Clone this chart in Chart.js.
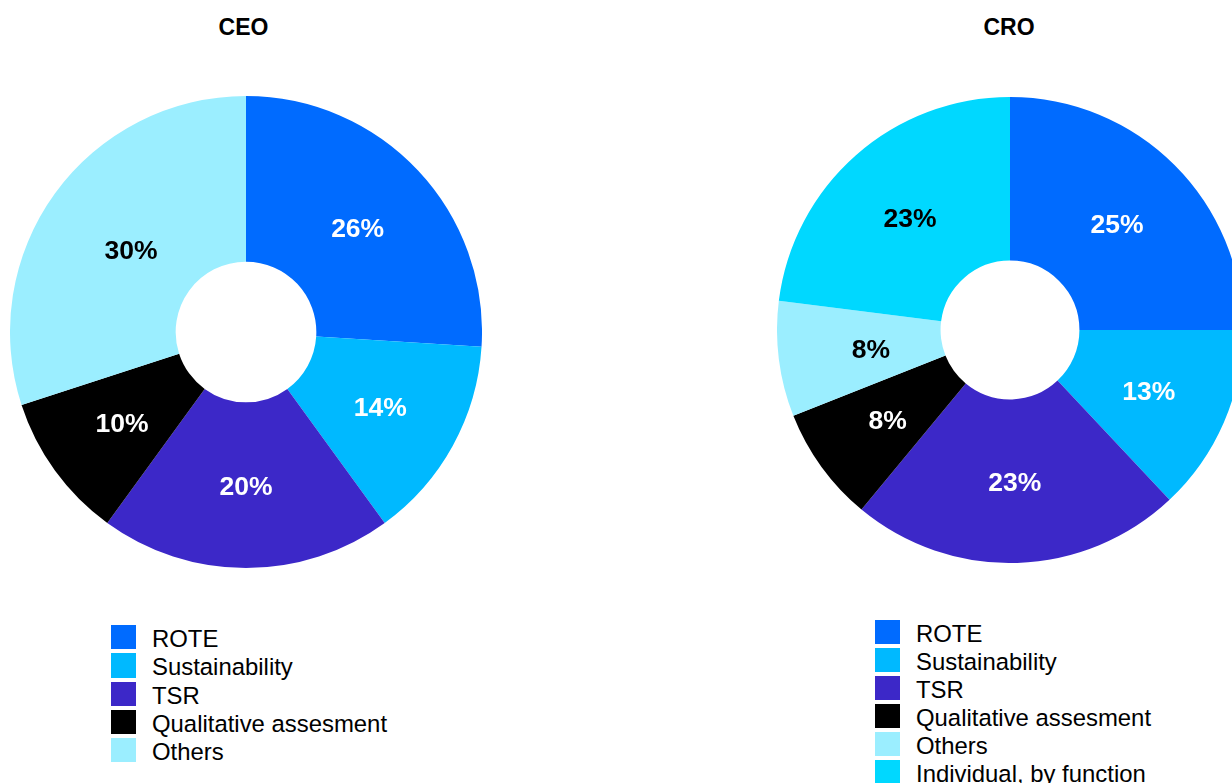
<!DOCTYPE html>
<html lang="en">
<head>
<meta charset="UTF-8">
<title>CEO / CRO variable pay mix</title>
<script src="https://cdn.jsdelivr.net/npm/chart.js"></script>
<style>
    html, body {
        margin: 0;
        padding: 0;
        background: #ffffff;
    }
    #stage {
        position: relative;
        width: 1232px;
        height: 783px;
        overflow: hidden;
        font-family: Arial, "Liberation Sans", sans-serif;
    }
    .title {
        position: absolute;
        width: 200px;
        text-align: center;
        font-size: 23px;
        line-height: 23px;
        font-weight: bold;
        color: #000;
    }
    canvas {
        position: absolute;
    }
    .legend {
        position: absolute;
    }
    .legend .row {
        position: relative;
        white-space: nowrap;
    }
    .legend .box {
        position: absolute;
        left: 0;
        top: 0;
        width: 25px;
        height: 24.3px;
    }
    .legend .txt {
        position: absolute;
        left: 41px;
        top: 0;
        font-size: 23.9px;
        line-height: 28px;
        color: #000;
    }
</style>
</head>
<body>
<div id="stage">
    <div class="title" style="left:143.5px;top:16px">CEO</div>
    <div class="title" style="left:909px;top:16px">CRO</div>
    <canvas id="ceoChart" width="472" height="472" style="left:10px;top:96px"></canvas>
    <canvas id="croChart" width="466" height="466" style="left:777px;top:97px"></canvas>
    <div class="legend" id="ceoLegend" style="left:111px;top:625px"></div>
    <div class="legend" id="croLegend" style="left:875px;top:620px"></div>
</div>
<script>
// data (percent of variable pay)
const ceoLabels = ['ROTE', 'Sustainability', 'TSR', 'Qualitative assesment', 'Others'];
const ceoValues = [26, 14, 20, 10, 30];

const croLabels = ['ROTE', 'Sustainability', 'TSR', 'Qualitative assesment', 'Others', 'Individual, by function'];
const croValues = [25, 13, 23, 8, 8, 23];

// one colour per category, shared by both charts
const categoryColors = {
    'ROTE': '#006bff',
    'Sustainability': '#00b9ff',
    'TSR': '#3c28c8',
    'Qualitative assesment': '#000000',
    'Others': '#9beeff',
    'Individual, by function': '#00d8ff'
};

// dark text on the light slices, white on the rest
function textColorFor(hex) {
    const r = parseInt(hex.substr(1, 2), 16);
    const g = parseInt(hex.substr(3, 2), 16);
    const b = parseInt(hex.substr(5, 2), 16);
    const lum = 0.299 * r + 0.587 * g + 0.114 * b;
    return lum > 147 ? '#000000' : '#ffffff';
}

// writes "xx%" in the middle of every slice
const sliceLabels = {
    id: 'sliceLabels',
    afterDatasetsDraw(chart) {
        const ctx = chart.ctx;
        const ds = chart.data.datasets[0];
        const meta = chart.getDatasetMeta(0);
        ctx.save();
        ctx.font = 'bold 26.5px Arial, "Liberation Sans", sans-serif';
        ctx.textAlign = 'center';
        ctx.textBaseline = 'middle';
        meta.data.forEach((arc, i) => {
            const label = chart.data.labels[i];
            const mid = (arc.startAngle + arc.endAngle) / 2;
            // the big "Others" labels sit a little closer to the hole
            const r = (arc.innerRadius + arc.outerRadius) / 2 - (label === 'Others' ? 11 : 0);
            const x = arc.x + Math.cos(mid) * r;
            const y = arc.y + Math.sin(mid) * r;
            ctx.fillStyle = textColorFor(ds.backgroundColor[i]);
            ctx.fillText(ds.data[i] + '%', x, y + 3);
        });
        ctx.restore();
    }
};

function makeDoughnut(canvasId, labels, values) {
    const ctx = document.getElementById(canvasId).getContext('2d');
    return new Chart(ctx, {
        type: 'doughnut',
        data: {
            labels: labels,
            datasets: [{
                data: values,
                backgroundColor: labels.map(l => categoryColors[l]),
                borderWidth: 0,
                offset: 0,
                hoverOffset: 0
            }]
        },
        options: {
            responsive: false,
            animation: false,
            cutout: '29.8%',
            layout: { padding: 0 },
            plugins: {
                legend: { display: false },
                title: { display: false },
                tooltip: { enabled: false }
            },
            events: []
        },
        plugins: [sliceLabels]
    });
}

function makeLegend(elId, labels, rowHeight) {
    const el = document.getElementById(elId);
    labels.forEach(l => {
        const row = document.createElement('div');
        row.className = 'row';
        row.style.height = rowHeight + 'px';
        const box = document.createElement('div');
        box.className = 'box';
        box.style.background = categoryColors[l];
        const txt = document.createElement('div');
        txt.className = 'txt';
        txt.textContent = l;
        row.appendChild(box);
        row.appendChild(txt);
        el.appendChild(row);
    });
}

makeDoughnut('ceoChart', ceoLabels, ceoValues);
makeDoughnut('croChart', croLabels, croValues);
makeLegend('ceoLegend', ceoLabels, 28.3);
makeLegend('croLegend', croLabels, 28);
</script>
</body>
</html>
